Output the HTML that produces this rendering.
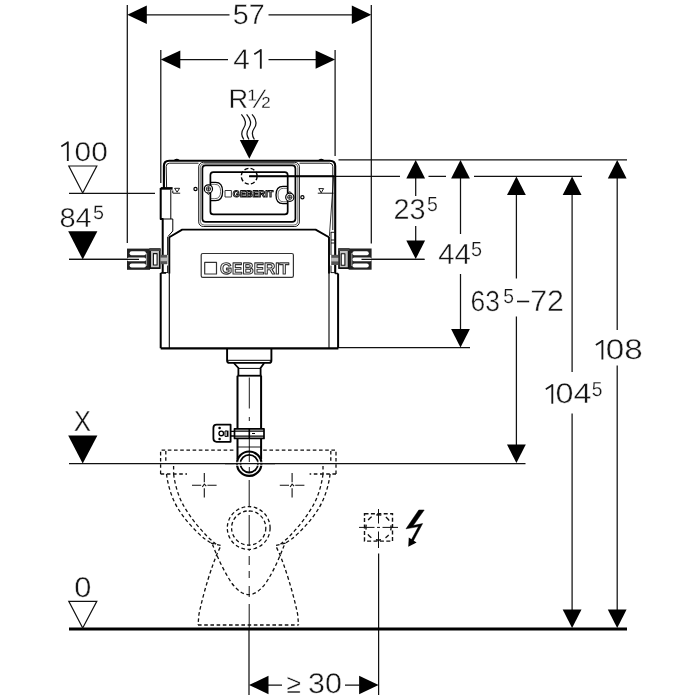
<!DOCTYPE html>
<html><head><meta charset="utf-8">
<style>
html,body{margin:0;padding:0;background:#fff;}
body{width:700px;height:700px;overflow:hidden;}
svg{display:block;opacity:0.999;will-change:transform;}
text{font-family:"Liberation Sans",sans-serif;text-rendering:geometricPrecision;}
</style></head><body>
<svg width="700" height="700" viewBox="0 0 700 700">
<rect width="700" height="700" fill="#fff"/>
<defs>
<path id="aL" d="M0,0 L19.5,-9.2 V9.2 Z"/>
<path id="aR" d="M0,0 L-19.5,-9.2 V9.2 Z"/>
<path id="aU" d="M0,0 L-9.4,18.5 H9.4 Z"/>
<path id="aD" d="M0,0 L-9.4,-18.5 H9.4 Z"/>
</defs>

<!-- ===== dimension lines ===== -->
<g id="dims" fill="none" stroke="#111" stroke-width="1.25">
<!-- top verticals -->
<path d="M127.3,5 V243"/>
<path d="M371.3,5 V243.5"/>
<path d="M160.8,50 V183"/>
<path d="M335.1,50 V156"/>
<!-- 57 -->
<path d="M146,14.8 H229.5 M268.5,14.8 H352"/>
<!-- 41 -->
<path d="M180,59.6 H228 M268.5,59.6 H316"/>
<!-- left level lines -->
<path d="M69,193.4 H155"/>
<path d="M69,259.3 H139"/>
<path d="M69,463.5 H525.5"/>
<!-- right reference lines -->
<path d="M338.5,159.8 H627"/>
<path d="M249,176.3 H400 M428.5,176.3 H446 M474,176.3 H582"/>
<path d="M361,259.3 H424.5"/>
<path d="M339,347.7 H470"/>
<!-- 23.5 -->
<path d="M415.7,178 V196 M415.7,226 V241"/>
<!-- 44.5 -->
<path d="M460.5,178 V234 M460.5,274 V330"/>
<!-- 63.5 -->
<path d="M516.4,195 V278.5 M516.4,316.5 V445"/>
<!-- 104.5 -->
<path d="M572.1,195 V372 M572.1,413.5 V611"/>
<!-- 108 -->
<path d="M617.2,178 V330 M617.2,365.5 V611"/>
<!-- bottom >=30 -->
<path d="M249,628 V695"/>
<path d="M378.6,553.5 V695"/>
<path d="M268,685 H282 M345,685 H359.5"/>
</g>
<!-- floor -->
<path d="M69,629 H627" stroke="#000" stroke-width="3" fill="none"/>

<!-- arrows -->
<g fill="#000">
<use href="#aL" x="127.3" y="14.8"/><use href="#aR" x="371.3" y="14.8"/>
<use href="#aL" x="160.8" y="59.6"/><use href="#aR" x="335.1" y="59.6"/>
<use href="#aU" x="415.7" y="160"/><use href="#aD" x="415.7" y="259"/>
<use href="#aU" x="460.5" y="160"/><use href="#aD" x="460.5" y="347.5"/>
<use href="#aU" x="516.4" y="176.6"/><use href="#aD" x="516.4" y="463"/>
<use href="#aU" x="572.1" y="176.6"/><use href="#aD" x="572.1" y="628"/>
<use href="#aU" x="617.2" y="160"/><use href="#aD" x="617.2" y="628"/>
<use href="#aL" x="249" y="685"/><use href="#aR" x="378.6" y="685"/>
<!-- R1/2 arrow -->
<path d="M249.3,158.8 L239.8,140 H258.8 Z"/>
<!-- level filled triangles -->
<path d="M68.2,231.3 H97.4 L82.7,259.5 Z"/>
<path d="M68.2,435.5 H97.4 L82.7,463.5 Z"/>
</g>
<!-- open triangles -->
<g fill="#fff" stroke="#111" stroke-width="1.2">
<path d="M68.8,166 H96.8 L82.7,193 Z"/>
<path d="M68.8,601.3 H96.8 L82.7,628 Z"/>
</g>

<!-- ===== text ===== -->
<g id="txt" fill="#161616" stroke="#fff">
<text transform="translate(232.77,24.00) scale(1.0231,1.0118)" font-size="28" stroke-width="0.4">57</text>
<text transform="translate(233.24,69.00) scale(1.0623,1.0246)" font-size="28" stroke-width="0.4">4</text>
<text transform="translate(228.39,108.00) scale(0.9716,0.9599)" font-size="28" stroke-width="0.4">R½</text>
<text transform="translate(74.61,161.00) scale(1.0667,0.9638)" font-size="28" stroke-width="0.4">00</text>
<text transform="translate(59.38,227.00) scale(1.0374,0.9690)" font-size="28" stroke-width="0.4">84</text>
<text transform="translate(92.93,219.00) scale(0.9884,0.9627)" font-size="20" stroke-width="0.25">5</text>
<text transform="translate(73.65,431.00) scale(0.9269,1.0398)" font-size="28" stroke-width="0.4">X</text>
<text transform="translate(74.14,597.00) scale(1.0983,1.0200)" font-size="28" stroke-width="0.4">0</text>
<text transform="translate(393.44,219.00) scale(1.0302,1.0265)" font-size="28" stroke-width="0.4">23</text>
<text transform="translate(427.10,211.00) scale(0.9731,1.0218)" font-size="20" stroke-width="0.25">5</text>
<text transform="translate(438.14,264.00) scale(1.0502,1.0400)" font-size="28" stroke-width="0.4">44</text>
<text transform="translate(471.11,256.00) scale(0.9929,1.0219)" font-size="20" stroke-width="0.25">5</text>
<text transform="translate(470.62,311.00) scale(0.9419,1.0306)" font-size="28" stroke-width="0.4">63</text>
<text transform="translate(503.24,303.00) scale(0.9628,1.0225)" font-size="20" stroke-width="0.25">5</text>
<text transform="translate(530.14,311.00) scale(1.0843,1.0633)" font-size="28" stroke-width="0.4">72</text>
<text transform="translate(605.75,359.00) scale(1.1871,1.0168)" font-size="28" stroke-width="0.4">08</text>
<text transform="translate(555.53,403.00) scale(1.1551,1.0159)" font-size="28" stroke-width="0.4">04</text>
<text transform="translate(591.85,396.00) scale(0.9614,1.0169)" font-size="20" stroke-width="0.25">5</text>
<text transform="translate(286.58,693.00) scale(0.9729,1.0000)" font-size="27" stroke-width="0.4">≥</text>
<text transform="translate(307.93,693.00) scale(1.0884,1.0166)" font-size="28" stroke-width="0.4">30</text>
</g>
<g id="ones" fill="none" stroke="#161616" stroke-width="1.85">
<path d="M260.8,49.2 V68.7"/>
<path d="M254.3,54.2 L260.6,50.2" stroke-width="1.7"/>
<path d="M67.8,141.5 V161.0"/>
<path d="M61.3,146.5 L67.6,142.5" stroke-width="1.7"/>
<path d="M602.4,340.0 V359.5"/>
<path d="M595.9,345.0 L602.2,341.0" stroke-width="1.7"/>
<path d="M552.3,384.2 V403.7"/>
<path d="M545.8,389.2 L552.1,385.2" stroke-width="1.7"/>
<path d="M517,301.5 H529.2" stroke-width="1.6"/>
</g>

<!-- wavy lines -->
<g fill="none" stroke="#111" stroke-width="1.25">
<path id="wv" d="M241.4,114.3 C246.5,120 246,125 243.5,128.5 C241,132 241.5,136 243.8,139.5"/>
<use href="#wv" x="5.2"/><use href="#wv" x="10.6"/>
</g>

<!-- CISTERN -->
<!--CISTERN_START-->
<g id="cistern" fill="none" stroke="#000" stroke-linejoin="round">
<!-- upper frame thick outline -->
<path d="M163.9,188 V166 Q163.9,160.7 169.2,160.7 H329.8 Q335.2,160.7 335.2,166 V273.5" stroke-width="2.1"/>
<!-- bumps on top -->
<path d="M174.5,160.2 Q176.8,158.6 179,160.2 M319,160.2 Q321.3,158.6 323.5,160.2" stroke-width="1.4"/>
<!-- inner thin lines of frame -->
<path d="M166.6,187.5 L166.2,166.5 Q166.2,163.2 169.6,163.2 H198.5 M299.5,163.2 H329.6 Q332.8,163.2 332.8,166.5 V230" stroke-width="0.9"/>
<path d="M333.6,177 L329.4,236" stroke-width="0.8"/>
<!-- left tab -->
<path d="M160.7,188 V219 H162.7 V273" stroke-width="2"/>
<path d="M160.7,188.4 H172.6" stroke-width="2.6"/>
<path d="M170.8,190 V219 M161,219 H172.8 V231 L168,236.5" stroke-width="1"/>
<path d="M172.8,190.5 V193" stroke-width="1"/>
<!-- water level marks -->
<g stroke-width="0.9">
<path d="M174.6,188.3 H179.6 L177.1,192.2 Z M172.8,193.2 H180.2"/>
<path d="M318.8,188.6 H323.6 L321.2,192.8 Z M317.8,193.2 H333.6"/>
<circle cx="195.5" cy="189" r="1.6" stroke-width="1.2"/><circle cx="302.4" cy="197.3" r="1.6" stroke-width="1.2"/>
</g>
<!-- window -->
<rect x="198.7" y="162.3" width="100.7" height="64.2" rx="4.6" stroke-width="0.9"/>
<rect x="200.3" y="163.7" width="97.5" height="61.3" rx="3.8" stroke-width="0.7" stroke="#333"/>
<rect x="202.4" y="165.3" width="93" height="56.6" rx="3.2" stroke-width="1.7"/>
<path d="M213.4,172.1 H284.7 Q287.7,172.1 287.7,175.1 V211.4 Q287.7,214.4 284.7,214.4 H213.4 Q210.4,214.4 210.4,211.4 V175.1 Q210.4,172.1 213.4,172.1 Z" stroke-width="1.7"/>
<!-- tabs inside window -->
<path d="M211,182.4 H215.5 Q222.6,182.4 222.6,191.5 Q222.6,200.6 215.5,200.6 H211" stroke-width="1.3"/>
<path d="M211,184.3 H214.8 Q220.6,184.3 220.6,191.5 Q220.6,198.7 214.8,198.7 H211" stroke-width="0.6"/>
<path d="M287,186.4 H283 Q276,186.4 276,195 Q276,203.7 283,203.7 H287" stroke-width="1.3"/>
<path d="M287,188.3 H283.6 Q278,188.3 278,195 Q278,201.8 283.6,201.8 H287" stroke-width="0.6"/>
<!-- screws -->
<g stroke-width="1.2" fill="#fff">
<circle cx="208.4" cy="188.9" r="4.1"/><circle cx="289.8" cy="197.2" r="4.1"/>
</g>
<g stroke-width="0.8">
<circle cx="208.4" cy="188.9" r="2.2"/><circle cx="289.8" cy="197.2" r="2.2"/>
<path d="M206.2,188.9 H210.6 M208.4,186.7 V191.1 M287.6,197.2 H292 M289.8,195 V199.4"/>
<path d="M206.8,192.8 L208.4,194.6 L210,192.8 M288.2,193.2 L289.8,191.4 L291.4,193.2"/>
</g>
<!-- dashed circle + level line -->
<circle cx="249.2" cy="176.2" r="7.9" stroke-width="1.35" stroke-dasharray="4.2 2.2"/>
<path d="M249.2,176.3 H334" stroke-width="1.9"/>
<!-- small logo -->
<rect x="225" y="190.5" width="6.4" height="6.5" stroke-width="0.9" stroke="#222"/>
<text x="232.8" y="197" font-family="Liberation Sans" font-weight="bold" font-size="9.3" textLength="40.5" lengthAdjust="spacingAndGlyphs" fill="#ddd" stroke="#111" stroke-width="1">GEBERIT</text>
<!-- tank body -->
<path d="M169.3,273.5 V237.3 L182.2,229.6 H315.6 L329,237.3 V273.5" stroke-width="1.9"/>
<path d="M169.3,273 V348 M329,273 V348" stroke-width="1.1"/>
<path d="M160.7,348.3 H338.4" stroke-width="2.2"/>
<!-- outer lower rails -->
<path d="M160.7,273 V348.3 M338.1,273.5 V348.3" stroke-width="2"/>
<path d="M160.7,273 H166 M335.2,273.5 H338.1" stroke-width="1.6"/>
<!-- big logo -->
<rect x="201.2" y="253.5" width="92.2" height="23.9" rx="1.6" stroke="#333" stroke-width="1.2"/>
<rect x="204.7" y="262.4" width="11.8" height="11.6" stroke="#333" stroke-width="1.2"/>
<text x="220" y="274" font-family="Liberation Sans" font-weight="bold" font-size="16.2" textLength="69" lengthAdjust="spacingAndGlyphs" fill="#fff" stroke="#333" stroke-width="1.1">GEBERIT</text>
<!-- left bracket -->
<g>
<rect x="127" y="248.6" width="23" height="21.2" fill="#222" stroke="none"/>
<g fill="#fff" stroke="none">
<rect x="129.6" y="251.2" width="16.4" height="4" rx="2"/>
<rect x="127" y="257.4" width="19" height="3.9" rx="1.9"/>
<rect x="129.6" y="263.6" width="16.4" height="4" rx="2"/>
</g>
<path d="M146.6,253 V266" stroke="#999" stroke-width="1"/>
<rect x="150.2" y="249" width="9.6" height="19.2" fill="#c4c4c4" stroke="#111" stroke-width="1.7"/>
<rect x="149.4" y="248.2" width="11.2" height="2.8" fill="#444" stroke="none"/>
<rect x="153.4" y="253.6" width="3.7" height="11.4" fill="#fff" stroke="#111" stroke-width="1.1"/>
<path d="M69,259.3 H139" stroke="#111" stroke-width="1.25"/>
<rect x="160.6" y="254.8" width="6.8" height="9.4" fill="#555" stroke="none"/>
<rect x="160.6" y="257.6" width="6.8" height="3.6" fill="#bbb" stroke="none"/>
</g>
<!-- right bracket -->
<g>
<rect x="348.6" y="248.5" width="23" height="21.2" fill="#222" stroke="none"/>
<g fill="#fff" stroke="none">
<rect x="352.4" y="251.2" width="16.4" height="4" rx="2"/>
<rect x="352.4" y="257.4" width="19.4" height="3.9" rx="1.9"/>
<rect x="352.4" y="263.6" width="16.4" height="4" rx="2"/>
</g>
<path d="M351.8,253 V266" stroke="#999" stroke-width="1"/>
<rect x="339" y="249" width="9.6" height="19.2" fill="#c4c4c4" stroke="#111" stroke-width="1.7"/>
<rect x="338.2" y="248.2" width="11.2" height="2.8" fill="#444" stroke="none"/>
<rect x="341.2" y="253.8" width="3.7" height="11.4" fill="#fff" stroke="#111" stroke-width="1.1"/>
<path d="M361.5,259.3 H424.5" stroke="#111" stroke-width="1.25"/>
<rect x="331.2" y="254.8" width="7" height="10.2" fill="#555" stroke="none"/>
<rect x="331.2" y="257.8" width="7" height="3.6" fill="#bbb" stroke="none"/>
</g>
<!-- side details between tank edge and outer rail -->
<g stroke-width="0.9">
<path d="M331,232 V255 M331,265.5 V273 M331,232.3 H334.4 M331,240 H334.4 M331,243 H334.4 M331,272.6 H334.4"/>
<path d="M167.6,237 V255 M167.6,265.5 V273 M163.5,272.6 H167.6"/>
</g>
</g>

<!--CISTERN_END-->

<!-- PIPE -->
<!--PIPE_START-->
<g id="pipe" fill="none" stroke="#000" stroke-linejoin="round">
<!-- connector under tank -->
<path d="M227.1,348.3 V360.5 Q227.1,362.9 229.5,362.9 H269 Q271.4,362.9 271.4,360.5 V348.3" stroke-width="1.9"/>
<path d="M227.5,360.3 H271" stroke-width="1"/>
<!-- neck -->
<path d="M233.8,363 L238.4,368 V375.6 M264.2,363 L260.6,368 V375.6" stroke-width="1.8"/>
<path d="M238.4,368.4 H260.6" stroke-width="1"/>
<path d="M237.4,375.7 H261.6" stroke-width="1.8"/>
<!-- pipe walls -->
<path d="M237.5,375.7 V459 M261.1,375.7 V459" stroke-width="2"/>
<!-- clamp -->
<rect x="234.5" y="428.8" width="29.5" height="9.6" fill="#fff" stroke-width="1.7"/>
<path d="M234.5,431.2 H264 M234.5,436.2 H264" stroke-width="1.2"/>
<path d="M249.3,428.6 V438.4" stroke-width="1.6"/>
<path d="M252,433.5 H255" stroke-width="1"/>
<!-- bolt -->
<path d="M230.6,431.4 H234.5 M230.6,436 H234.5" stroke-width="1.3"/>
<path d="M227.6,430.6 V436.8" stroke-width="1.8"/><path d="M225,431 H227 M225,436.4 H227 M225,431 V436.4" stroke-width="1"/>
<!-- bracket -->
<path d="M216.6,424.7 H230.6 V441.8 H216.6 Q213.4,441.8 213.4,438.6 V427.9 Q213.4,424.7 216.6,424.7 Z" stroke-width="1.8"/>
<circle cx="221.3" cy="433.4" r="2.3" stroke-width="1.4"/>
<circle cx="219.6" cy="428" r="1.3" fill="#000" stroke="none"/>
<circle cx="219.6" cy="439" r="1.3" fill="#000" stroke="none"/>
<!-- bend -->
<path d="M237.6,447 H261.2" stroke-width="0.9"/>
<circle cx="249.2" cy="463.7" r="12.2" stroke-width="2.2" fill="#fff"/>
<circle cx="249.2" cy="463.7" r="8.8" stroke-width="1.8"/>
<path d="M234,462.3 H264.5 M234,465.2 H264.5" stroke="#fff" stroke-width="1"/>
<path d="M225,463.5 H275" stroke="#111" stroke-width="1.25"/>
<!-- centre line -->
<path d="M249.3,377.5 V408.5 M249.3,417 V421 M249.3,438.4 V462 M249.3,467 V472.5" stroke-width="0.9"/>
</g>

<!--PIPE_END-->

<!-- TOILET -->
<!--TOILET_START-->
<g id="toilet" fill="none" stroke="#111" stroke-width="1.3">
<g stroke-dasharray="3.6 2.6">
<path d="M160.6,474 V450.2 H235.2"/>
<path d="M336.0 474.0 V450.2 H261.4"/>
<path d="M165.8,451 V461.5"/>
<path d="M330.8 451.0 V461.5"/>
<path d="M160.6,474 H187"/>
<path d="M336.0 474.0 H309.6"/>
<path d="M173.6,466 V474"/>
<path d="M323.0 466.0 V474.0"/>
<path d="M166.5,474 C168,486 172,499 178.3,509 C185,520 196,532 205,539 L211.5,543.3"/>
<path d="M330.1 474.0 C328.6 486.0 324.6 499.0 318.3 509.0 C311.6 520.0 300.6 532.0 291.6 539.0 L285.1 543.3"/>
<path d="M173.6,474 C175,485 178.5,497 183.8,506 C190,517 199,528 208,537.3 L218,546"/>
<path d="M323.0 474.0 C321.6 485.0 318.1 497.0 312.8 506.0 C306.6 517.0 297.6 528.0 288.6 537.3 L278.6 546.0"/>
<path d="M211,543.2 L221,545.4 L217,554 C212,566 204,590 199,614 L198,625"/>
<path d="M285.6 543.2 L275.6 545.4 L279.6 554.0 C284.6 566.0 292.6 590.0 297.6 614.0 L298.6 625.0"/>
<path d="M198,625 H298.6"/>
<path d="M212.5,544.5 C217,556 223,570 232,583.5 C237.5,590.5 243,594.6 248.8,594.6 C254.6,594.6 260,590.5 265.5,583.5 C274.5,570 280,556 284.5,544.5"/>
<circle cx="248.7" cy="528" r="21.4"/>
<circle cx="248.7" cy="528" r="17.1"/>
</g>
<!-- fixing crosses -->
<g stroke-width="1.1">
<path d="M192,485.2 H201.2 M207.4,485.2 H216.6 M204.3,473 V482.2 M204.3,488.2 V497.4 M202.3,487 L204.3,484.2 L206.3,486.2"/>
<path d="M279.8,485.2 H289 M295.2,485.2 H304.4 M292.1,473 V482.2 M292.1,488.2 V497.4 M290.1,487 L292.1,484.2 L294.1,486.2"/>
</g>
<!-- centre line -->
<path d="M249.2,480 V507 M249.2,510.5 V512 M249.2,515 V546 M249.2,549.5 V551 M249.2,556 V565 M249.2,571 V578 M249.2,586 V597 M249.2,604 V628" stroke-width="1"/>
</g>

<!--TOILET_END-->

<!-- ELEC -->
<!--ELEC_START-->
<g id="elec" fill="none" stroke="#111">
<rect x="364.5" y="513.7" width="28" height="27.4" stroke-width="1.4" stroke-dasharray="4 2.4"/>
<circle cx="378.5" cy="527.4" r="12.6" stroke-width="1.35" stroke-dasharray="5 4.9" stroke-dashoffset="2.5" transform="rotate(45 378.5 527.4)"/>
<path d="M359,527.4 H374.5 M377,527.4 H380 M382.5,527.4 H398 M378.5,509 V523.5 M378.5,531.5 V548" stroke-width="1"/>
<path d="M418.8,510 H424.2 L413.2,525.6 L422.6,523.6 L413,541.5 L411,540.5 L418.5,526.6 L406,528.8 Z" fill="#000" stroke="#000" stroke-width="0.5" stroke-linejoin="round"/>
<path d="M408.3,546.8 L408.8,537.6 L416.6,542.6 Z" fill="#000" stroke="none"/>
</g>

<!--ELEC_END-->
</svg>
</body></html>
